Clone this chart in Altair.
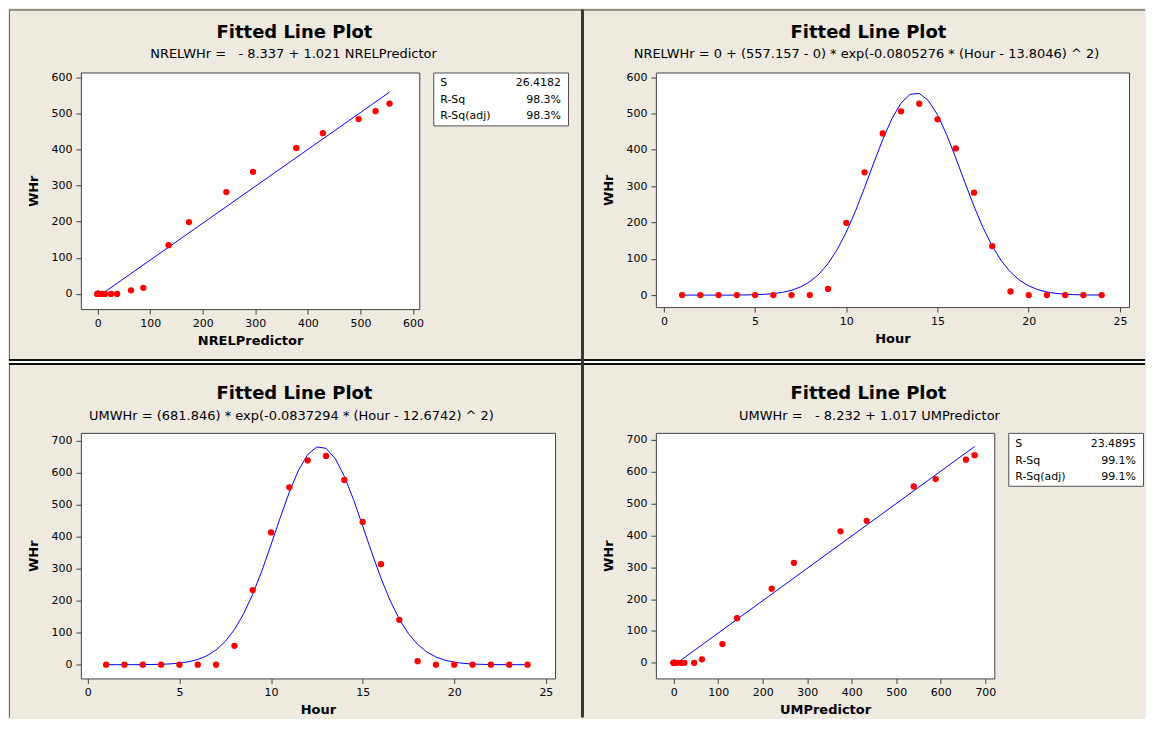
import altair as alt
import pandas as pd

# ---------------- data ----------------
hours = list(range(1, 25))
nrel_whr = [0, 0, 0, 0, 0, 0, 0, 0, 17, 199, 338, 445, 506, 527, 484, 404, 282, 135, 10, 0, 0, 0, 0, 0]
um_whr = [0, 0, 0, 0, 0, 0, 0, 59, 233, 413, 554, 638, 652, 577, 446, 314, 140, 11, 0, 0, 0, 0, 0, 0]
nrel_pred = [0, 0, 0, 0.2, 1.1, 4.1, 13.4, 36.9, 86.8, 173.7, 295.7, 428.6, 528.8, 555.4, 496.6,
             377.9, 244.9, 135.0, 63.4, 25.3, 8.6, 2.5, 0.6, 0.1]
um_pred = [0, 0, 0.3, 1.3, 4.9, 16.3, 46.0, 109.4, 220.2, 374.7, 539.2, 656.4, 675.8, 588.5, 433.5,
           270.1, 142.3, 63.4, 23.9, 7.6, 2.1, 0.5, 0.1, 0]

curve_hours = [1.0, 1.5, 2.0, 2.5, 3.0, 3.5, 4.0, 4.5, 5.0, 5.5, 6.0, 6.5, 7.0, 7.5, 8.0, 8.5,
               9.0, 9.5, 10.0, 10.5, 11.0, 11.5, 12.0, 12.5, 13.0, 13.5, 14.0, 14.5, 15.0, 15.5,
               16.0, 16.5, 17.0, 17.5, 18.0, 18.5, 19.0, 19.5, 20.0, 20.5, 21.0, 21.5, 22.0, 22.5,
               23.0, 23.5, 24.0]
nrel_curve = [0, 0, 0, 0, 0, 0, 0.2, 0.5, 1.1, 2.2, 4.1, 7.6, 13.4, 22.7, 36.9, 57.8,
              86.8, 125.3, 173.7, 231.2, 295.7, 363.3, 428.6, 485.8, 528.8, 553.0, 555.4, 535.9,
              496.6, 442.1, 377.9, 310.4, 244.9, 185.5, 135.0, 94.4, 63.4, 40.9, 25.3, 15.1,
              8.6, 4.7, 2.5, 1.3, 0.6, 0.3, 0.1]
um_curve = [0, 0, 0, 0.1, 0.3, 0.6, 1.3, 2.5, 4.9, 9.2, 16.3, 28.0, 46.0, 72.5, 109.4, 158.5,
            220.2, 293.3, 374.7, 458.9, 539.2, 607.5, 656.4, 680.1, 675.8, 644.0, 588.5, 515.8,
            433.5, 349.4, 270.1, 200.2, 142.3, 97.0, 63.4, 39.8, 23.9, 13.8, 7.6, 4.0,
            2.1, 1.0, 0.5, 0.2, 0.1, 0, 0]

nrel_fit_x = [15, 555.4]
nrel_fit_y = [7.0, 558.7]
um_fit_x = [14, 675.8]
um_fit_y = [6.0, 679.0]

FONT = "DejaVu Sans"
BG = "#EEEAE0"
ONE = alt.Data(values=[{}])


def txt(s, px, py, size=12, bold=False, align="center"):
    return alt.Chart(ONE).mark_text(
        text=s, fontSize=size, fontWeight="bold" if bold else "normal", align=align,
        baseline="middle", color="black", font=FONT
    ).encode(x=alt.value(px), y=alt.value(py))


def band(x1, x2, y1, y2, color):
    return alt.Chart(ONE).mark_rect(color=color, opacity=1).encode(
        x=alt.value(x1), x2=alt.value(x2), y=alt.value(y1), y2=alt.value(y2))


def stats_box(s, rsq, rsqadj):
    box = alt.Chart(ONE).mark_rect(fill="white", stroke="#505050", strokeWidth=1).encode(
        x=alt.value(353.5), x2=alt.value(488.5), y=alt.value(0.5), y2=alt.value(53.5))
    layers = [box]
    for i, (lab, val) in enumerate([("S", s), ("R-Sq", rsq), ("R-Sq(adj)", rsqadj)]):
        yy = [11, 28, 44][i]
        layers.append(txt(lab, 360, yy, size=11, align="left"))
        layers.append(txt(val, 481, yy, size=11, align="right"))
    return layers


def panel(pts, line, xdom, ydom, xticks, yticks, xtitle, w, h, title_xy, sub, sub_xy, extra):
    x = alt.X("x:Q", scale=alt.Scale(domain=xdom, nice=False, zero=False),
              axis=alt.Axis(values=xticks, title=xtitle))
    y = alt.Y("y:Q", scale=alt.Scale(domain=ydom, nice=False, zero=False),
              axis=alt.Axis(values=yticks, title="WHr"))
    ln = alt.Chart(line).mark_line(color="#0000FF", strokeWidth=1).encode(x=x, y=y)
    pt = alt.Chart(pts).mark_circle(color="#FF0000", size=40, opacity=1).encode(x=x, y=y)
    title = txt("Fitted Line Plot", title_xy[0], title_xy[1], size=18, bold=True)
    subtitle = txt(sub, sub_xy[0], sub_xy[1], size=13)
    return alt.layer(*extra, ln, pt, title, subtitle).properties(width=w, height=h)


# frame / separator lines (drawn in the first panel, relative to its plot origin)
frame = [
    band(-72, 1066, -63, -62, "#3a3a3a"),   # top edge
    band(-72, -71, -63, 646, "#6a6a6a"),    # left edge
    band(-72, 1066, 287, 289, "#111111"),   # horizontal separator (double line)
    band(-72, 1066, 289, 291, "#FFFFFF"),
    band(-72, 1066, 291, 293, "#111111"),
    band(501, 504, -63, 646, "#363636"),    # vertical separator
]

tl = panel(
    pd.DataFrame({"x": nrel_pred, "y": nrel_whr}),
    pd.DataFrame({"x": nrel_fit_x, "y": nrel_fit_y}),
    [-32, 612], [-42, 613], [0, 100, 200, 300, 400, 500, 600], [0, 100, 200, 300, 400, 500, 600],
    "NRELPredictor", 339, 237, (214, -40),
    "NRELWHr =\u00a0\u00a0 - 8.337 + 1.021 NRELPredictor", (213, -19),
    frame + stats_box("26.4182", "98.3%", "98.3%"),
)

tr = panel(
    pd.DataFrame({"x": hours, "y": nrel_whr}),
    pd.DataFrame({"x": curve_hours, "y": nrel_curve}),
    [-0.44, 25.5], [-33, 613], [0, 5, 10, 15, 20, 25], [0, 100, 200, 300, 400, 500, 600],
    "Hour", 474, 235, (213, -40),
    "NRELWHr = 0 + (557.157 - 0) * exp(-0.0805276 * (Hour - 13.8046) ^ 2)", (211, -19),
    [],
)

bl = panel(
    pd.DataFrame({"x": hours, "y": um_whr}),
    pd.DataFrame({"x": curve_hours, "y": um_curve}),
    [-0.38, 25.5], [-43, 724], [0, 5, 10, 15, 20, 25], [0, 100, 200, 300, 400, 500, 600, 700],
    "Hour", 475, 246, (214, -39),
    "UMWHr = (681.846) * exp(-0.0837294 * (Hour - 12.6742) ^ 2)", (211, -17),
    [],
)

br = panel(
    pd.DataFrame({"x": um_pred, "y": um_whr}),
    pd.DataFrame({"x": um_fit_x, "y": um_fit_y}),
    [-40, 720], [-49, 722], [0, 100, 200, 300, 400, 500, 600, 700],
    [0, 100, 200, 300, 400, 500, 600, 700],
    "UMPredictor", 339, 246, (213, -39),
    "UMWHr =\u00a0\u00a0 - 8.232 + 1.017 UMPredictor", (214, -17),
    stats_box("23.4895", "99.1%", "99.1%"),
)

chart = alt.concat(
    tl, tr, bl, br, columns=2,
    spacing={"row": 124, "column": 101}, align="each", bounds="flush",
).properties(
    padding=0, background=BG,
).configure_view(
    fill="white", stroke="#404040", strokeWidth=1,
).configure_axis(
    domain=False, grid=False, tickSize=5, tickColor="#404040", tickWidth=1,
    labelFont=FONT, labelFontSize=11, labelColor="black", labelFlush=False,
    titleFont=FONT, titleFontSize=13, titleFontWeight="bold", titleColor="black",
).configure_axisX(
    labelPadding=3, titlePadding=6,
).configure_axisY(
    labelPadding=4, titlePadding=10,
)

chart.save("out.html", embed_options={"renderer": "svg", "actions": False})
